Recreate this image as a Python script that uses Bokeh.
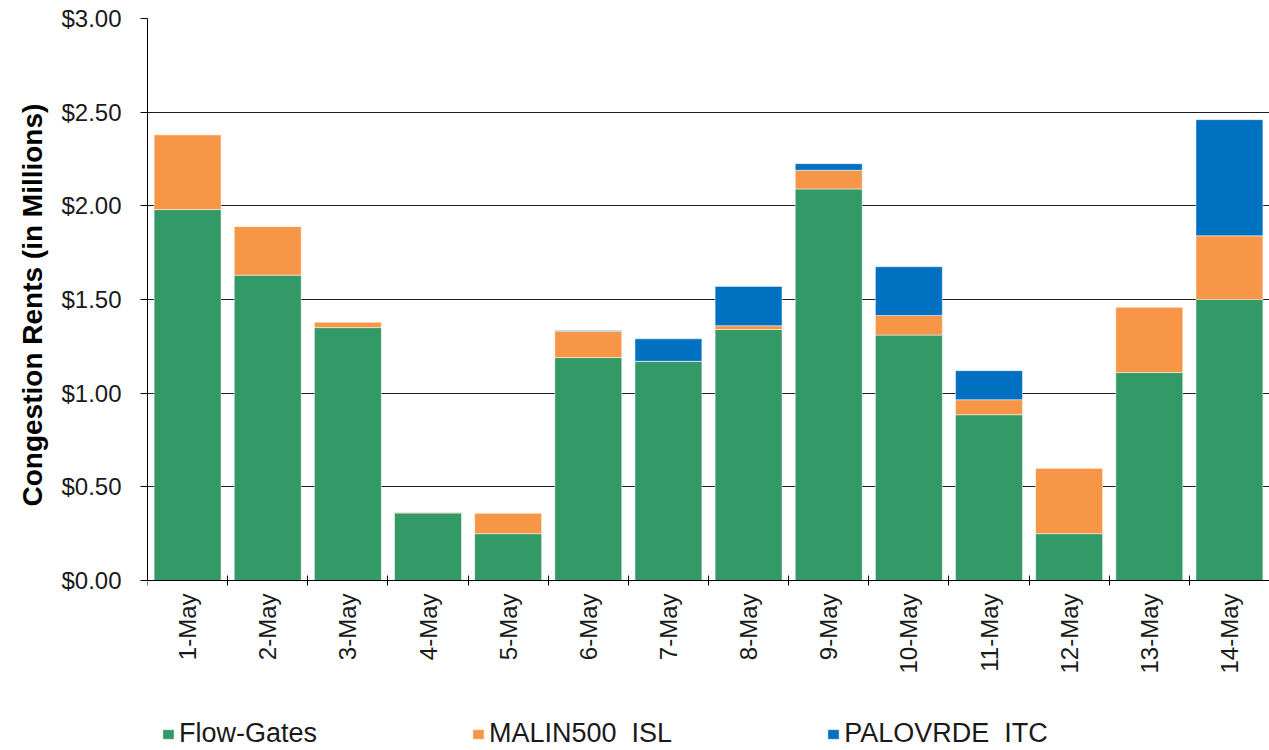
import numpy as np
from bokeh.plotting import figure
from bokeh.models import (ColumnDataSource, Range1d, FixedTicker, NumeralTickFormatter,
                          Legend, LegendItem, Title)
from bokeh.embed import file_html
from bokeh.resources import INLINE

dates = ["1-May", "2-May", "3-May", "4-May", "5-May", "6-May", "7-May",
         "8-May", "9-May", "10-May", "11-May", "12-May", "13-May", "14-May"]
flow_gates = [1.98, 1.63, 1.35, 0.36, 0.25, 1.19, 1.17, 1.34, 2.09, 1.31, 0.885, 0.25, 1.11, 1.50]
malin500_isl = [0.40, 0.26, 0.03, 0.005, 0.11, 0.14, 0.0, 0.02, 0.10, 0.105, 0.08, 0.35, 0.35, 0.34]
palovrde_itc = [0.0, 0.0, 0.0, 0.0, 0.0, 0.005, 0.12, 0.21, 0.035, 0.26, 0.155, 0.0, 0.0, 0.62]

series_labels = ["Flow-Gates", "MALIN500  ISL", "PALOVRDE  ITC"]
series_colors = ["#339966", "#F79646", "#0070C0"]
y_ticks = [0.0, 0.5, 1.0, 1.5, 2.0, 2.5, 3.0]
y_title = "Congestion Rents (in Millions)"

# layout (pixels)
W, H = 1269, 750
top_px, zero_px = 18, 580          # page y of $3.00 and of $0.00
y_max = 3.0
unit_px = (zero_px - top_px) / y_max
y_min = -(H - zero_px) / unit_px   # room under the axis for date labels and legend

n = len(dates)
centers = [i + 0.5 for i in range(n)]
boundaries = list(range(n + 1))

source = ColumnDataSource(dict(x=centers, fg=flow_gates, ml=malin500_isl, pv=palovrde_itc))

p = figure(width=W, height=H, x_range=Range1d(0, n), y_range=Range1d(y_min, y_max),
           output_backend="svg", toolbar_location=None,
           min_border_left=147, min_border_top=top_px, min_border_bottom=0, min_border_right=0)

renderers = p.vbar_stack(["fg", "ml", "pv"], x="x", width=0.835, source=source,
                         fill_color=series_colors, line_color="white",
                         line_alpha=0.6, line_width=0.8)

font = "Liberation Sans"

# y axis
p.yaxis.ticker = FixedTicker(ticks=y_ticks)
p.yaxis.bounds = (0, y_max)
p.yaxis.formatter = NumeralTickFormatter(format="$0.00")
p.yaxis.major_tick_out = 7
p.yaxis.major_tick_in = 0
p.yaxis.minor_tick_out = 0
p.yaxis.minor_tick_in = 0
p.yaxis.major_label_standoff = 19
p.yaxis.major_label_text_font = font
p.yaxis.major_label_text_font_size = "24px"
p.yaxis.major_label_text_color = "#1a1a1a"
p.yaxis.axis_line_color = "black"
p.yaxis.major_tick_line_color = "black"

title = Title(text=y_title, align="left", offset=244, standoff=21,
              text_font=font, text_font_style="bold", text_font_size="28px",
              text_color="black")
p.add_layout(title, "left")

# x axis drawn at $0
p.xaxis.fixed_location = 0
p.xaxis.ticker = FixedTicker(ticks=centers, minor_ticks=boundaries)
p.xaxis.major_label_overrides = {c: d for c, d in zip(centers, dates)}
p.xaxis.major_label_orientation = np.pi / 2
p.xaxis.major_tick_out = 0
p.xaxis.major_tick_in = 0
p.xaxis.minor_tick_out = 5
p.xaxis.minor_tick_in = 5
p.xaxis.minor_tick_line_color = "black"
p.xaxis.axis_line_color = "black"
p.xaxis.major_label_standoff = 8
p.xaxis.major_label_text_font = font
p.xaxis.major_label_text_font_size = "24px"
p.xaxis.major_label_text_color = "#1a1a1a"

p.xgrid.grid_line_color = None
p.ygrid.grid_line_color = "#1f1f1f"
p.ygrid.grid_line_width = 1
p.outline_line_color = None

legend = Legend(items=[LegendItem(label=lab, renderers=[r]) for lab, r in zip(series_labels, renderers)],
                location=(14, 1), orientation="horizontal",
                label_text_font=font, label_text_font_size="27px", label_text_color="#1a1a1a",
                glyph_width=14, glyph_height=12, label_standoff=4, spacing=154,
                padding=0, margin=0, border_line_color=None, background_fill_alpha=0)
p.add_layout(legend)

open("out.html", "w").write(file_html(p, INLINE))
